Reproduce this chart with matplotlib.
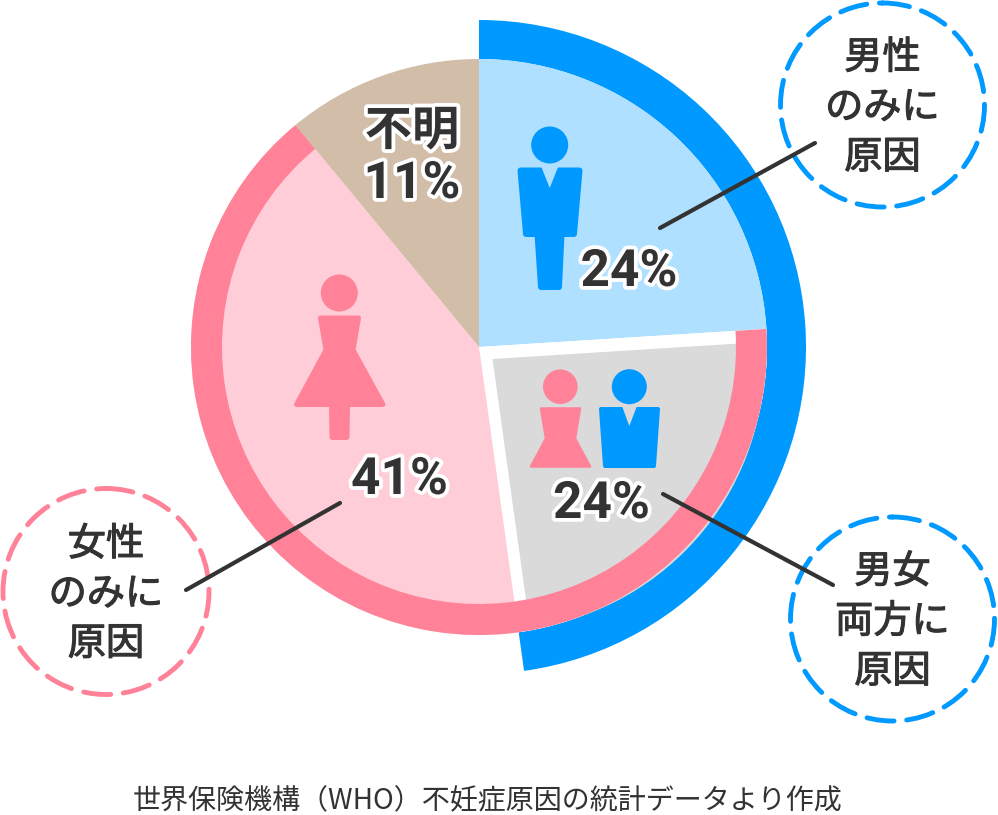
import numpy as np
import matplotlib
matplotlib.use('Agg')
from matplotlib import pyplot as plt
from matplotlib.patches import Wedge, Circle, Polygon
import matplotlib.patheffects as pe

plt.rcParams['font.family'] = ['Noto Sans CJK JP', 'DejaVu Sans']

# percent of cases, clockwise from the top (sizes as drawn, labels are rounded)
categories = ['男性のみ', '男女両方', '女性のみ', '不明']
shares = [24, 23.8, 41.2, 11]
share_labels = ['24%', '24%', '41%', '11%']
bubble_labels = ['男性\nのみに\n原因', '男女\n両方に\n原因', '女性\nのみに\n原因']
unknown_label = '不明'
source_note = '世界保険機構（WHO）不妊症原因の統計データより作成'

BLUE = '#0099ff'
LIGHT_BLUE = '#b0e0ff'
PINK = '#ff8298'
LIGHT_PINK = '#ffcdd7'
TAN = '#d2bda9'
GRAY = '#dadada'
DARK = '#333333'

cx, cy = 479, 347
R_OUT = 327
R_PIE = 288
R_RING = 257

# y axis runs downwards, so increasing angle is clockwise on the picture
fig = plt.figure(figsize=(9.98, 8.15), dpi=100)
ax = fig.add_axes([0, 0, 1, 1])
ax.set_xlim(0, 998)
ax.set_ylim(815, 0)
ax.axis('off')

edges = np.concatenate([[0], np.cumsum(shares)]) * 3.6 - 90

# outer blue ring: male factor = male only + both
ax.add_patch(Wedge((cx, cy), R_OUT, edges[0], edges[2], width=R_OUT - R_PIE, fc=BLUE, lw=0))

# pie
ax.add_patch(Wedge((cx, cy), R_PIE, edges[0], edges[1], fc=LIGHT_BLUE, lw=0))
ax.add_patch(Wedge((cx, cy), R_PIE, edges[1], edges[2], fc='white', lw=0))
ax.add_patch(Wedge((492.5, 359), 272, edges[1], edges[2], fc=GRAY, lw=0))
ax.add_patch(Wedge((cx, cy), R_PIE, edges[2], edges[3], fc=LIGHT_PINK, lw=0))
ax.add_patch(Wedge((cx, cy), R_PIE, edges[3], edges[4], fc=TAN, lw=0))

# pink ring: female factor = both + female only
ax.add_patch(Wedge((cx, cy), R_PIE, edges[1], edges[3], width=R_PIE - R_RING, fc=PINK, lw=0))


def shape(points, color, round_px=6):
    ax.add_patch(Polygon(points, closed=True, fc=color, ec=color,
                         lw=round_px * 0.72, joinstyle='round'))


# man icon
ax.add_patch(Circle((549.7, 145), 18.5, fc=BLUE, lw=0))
shape([(520.5, 170.5), (579.5, 170.5), (574, 234),
       (561.5, 234), (559, 287), (541, 287), (537.5, 234), (526, 234)], BLUE)
ax.add_patch(Polygon([(541, 166), (558.5, 166), (549.7, 188)], fc=LIGHT_BLUE, lw=0))

# woman icon
ax.add_patch(Circle((339.3, 293), 18.5, fc=PINK, lw=0))
shape([(320.5, 318), (358.5, 318), (353, 350), (383, 404.5), (296.5, 404.5), (326, 350)], PINK, 5)
shape([(332, 405), (347, 405), (346.5, 437), (332.5, 437)], PINK)

# couple icon
ax.add_patch(Circle((560.3, 386.7), 17.3, fc=PINK, lw=0))
shape([(541, 408.5), (580, 408.5), (575, 438.5), (590, 466.5), (531, 466.5), (546, 438.5)], PINK, 2.5)
ax.add_patch(Circle((629.3, 386.7), 17.5, fc=BLUE, lw=0))
shape([(601, 409), (658, 409), (654, 466), (605, 466)], BLUE, 4)
ax.add_patch(Polygon([(622, 406), (637, 406), (629.3, 426)], fc=GRAY, lw=0))

# leader lines
for (x0, y0), (x1, y1) in [((660, 228), (815, 143)), ((663, 494), (833, 585)), ((186, 590), (340, 503))]:
    ax.plot([x0, x1], [y0, y1], color=DARK, lw=3, solid_capstyle='round', zorder=4)

# dashed bubbles
bubble_centers = [(882.5, 105), (892.5, 619), (106, 591.5)]
bubble_radius = [102, 102, 103]
bubble_colors = [BLUE, BLUE, PINK]
for (bx, by), r, c, t in zip(bubble_centers, bubble_radius, bubble_colors, bubble_labels):
    ax.add_patch(Circle((bx, by), r, fc='none', ec=c, lw=3.5, linestyle=(0, (5.6, 2.6)),
                        capstyle='round', zorder=3))
    ax.text(bx, by + 3, t, ha='center', va='center', fontsize=27.5, color=DARK,
            linespacing=1.36, zorder=5,
            path_effects=[pe.withStroke(linewidth=0.8, foreground=DARK)])

# percent labels with a white halo
halo = [pe.withStroke(linewidth=5.5, foreground='white')]
share_pos = [(629, 272), (601.5, 504), (399.5, 480), (412, 184)]
for (x, y), t in zip(share_pos, share_labels):
    ax.text(x, y, t, ha='center', va='center', fontsize=37, weight='bold', color=DARK,
            family=['Roboto'], path_effects=halo, zorder=6)
ax.text(412, 131, unknown_label, ha='center', va='center', fontsize=34, weight='bold', color=DARK,
        path_effects=halo, zorder=6)

ax.text(487.5, 800, source_note, ha='center', va='center', fontsize=20.2, color=DARK)

fig.savefig('out.png', dpi=100)
